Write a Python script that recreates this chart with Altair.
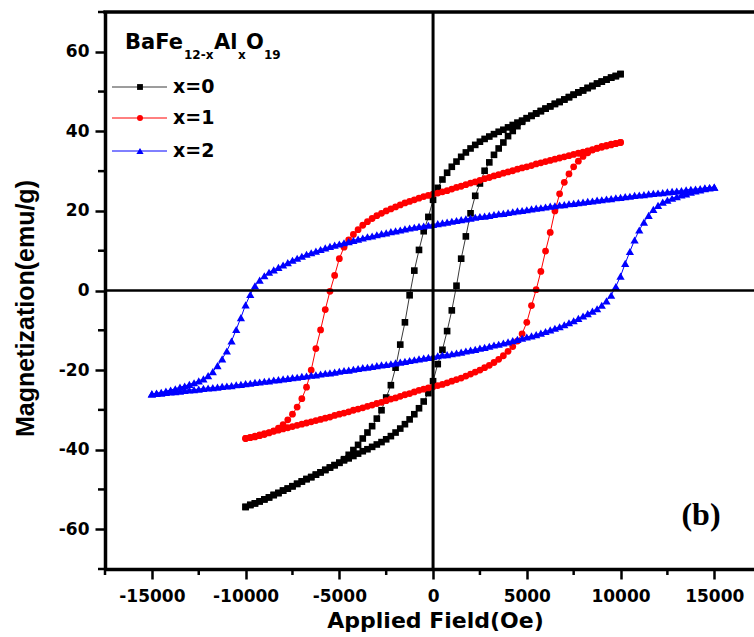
import altair as alt
import pandas as pd

# ---------------- data ----------------
SERIES = ["x=0", "x=1", "x=2"]
MARK_COLORS = ["#000000", "#ff0000", "#0000ff"]
LINE_COLORS = ["#3a3a3a", "#ff0000", "#0000ff"]
SHAPES = ["square", "circle", "triangle-up"]

# applied field sweep (Oe), descending branch order
H_10K = [10000, 9750, 9500, 9250, 9000, 8750, 8500, 8250, 8000, 7750,
         7500, 7250, 7000, 6750, 6500, 6250, 6000, 5750, 5500, 5250,
         5000, 4750, 4500, 4250, 4000, 3750, 3500, 3250, 3000, 2750,
         2500, 2250, 2000, 1750, 1500, 1250, 1000, 750, 500, 250,
         0, -250, -500, -750, -1000, -1250, -1500, -1750, -2000, -2250,
         -2500, -2750, -3000, -3250, -3500, -3750, -4000, -4250, -4500, -4750,
         -5000, -5250, -5500, -5750, -6000, -6250, -6500, -6750, -7000, -7250,
         -7500, -7750, -8000, -8250, -8500, -8750, -9000, -9250, -9500, -9750,
         -10000]
H_15K = [15000, 14750, 14500, 14250, 14000, 13750, 13500, 13250, 13000, 12750,
         12500, 12250, 12000, 11750, 11500, 11250, 11000, 10750, 10500, 10250,
         10000, 9750, 9500, 9250, 9000, 8750, 8500, 8250, 8000, 7750,
         7500, 7250, 7000, 6750, 6500, 6250, 6000, 5750, 5500, 5250,
         5000, 4750, 4500, 4250, 4000, 3750, 3500, 3250, 3000, 2750,
         2500, 2250, 2000, 1750, 1500, 1250, 1000, 750, 500, 250,
         0, -250, -500, -750, -1000, -1250, -1500, -1750, -2000, -2250,
         -2500, -2750, -3000, -3250, -3500, -3750, -4000, -4250, -4500, -4750,
         -5000, -5250, -5500, -5750, -6000, -6250, -6500, -6750, -7000, -7250,
         -7500, -7750, -8000, -8250, -8500, -8750, -9000, -9250, -9500, -9750,
         -10000, -10250, -10500, -10750, -11000, -11250, -11500, -11750, -12000, -12250,
         -12500, -12750, -13000, -13250, -13500, -13750, -14000, -14250, -14500, -14750,
         -15000]

# magnetization (emu/g)
BLACK_DOWN = [54.4, 53.9, 53.5, 53.0, 52.5, 52.0, 51.4, 50.9, 50.3, 49.8,
              49.2, 48.6, 48.0, 47.4, 46.9, 46.3, 45.7, 45.1, 44.5, 43.9,
              43.3, 42.7, 42.2, 41.6, 41.0, 40.4, 39.9, 39.3, 38.7, 38.1,
              37.4, 36.6, 35.7, 34.7, 33.6, 32.4, 31.1, 29.6, 27.9, 25.8,
              22.8, 18.5, 14.9, 10.2, 5.0, -1.2, -8.0, -13.6, -19.4, -23.8,
              -26.9, -30.1, -32.2, -34.1, -35.7, -37.2, -38.8, -40.1, -41.3, -42.4,
              -43.3, -43.9, -44.5, -45.1, -45.7, -46.3, -46.9, -47.4, -48.0, -48.6,
              -49.2, -49.8, -50.3, -50.9, -51.4, -52.0, -52.5, -53.0, -53.5, -53.9,
              -54.4]
BLACK_UP = [-54.4, -53.9, -53.5, -53.0, -52.5, -52.0, -51.4, -50.9, -50.3, -49.8,
            -49.2, -48.6, -48.0, -47.4, -46.9, -46.3, -45.7, -45.1, -44.5, -43.9,
            -43.3, -42.7, -42.2, -41.6, -41.0, -40.4, -39.9, -39.3, -38.7, -38.1,
            -37.4, -36.6, -35.7, -34.7, -33.6, -32.4, -31.1, -29.6, -27.9, -25.8,
            -22.8, -18.5, -14.9, -10.2, -5.0, 1.2, 8.0, 13.6, 19.4, 23.8,
            26.9, 30.1, 32.2, 34.1, 35.7, 37.2, 38.8, 40.1, 41.3, 42.4,
            43.3, 43.9, 44.5, 45.1, 45.7, 46.3, 46.9, 47.4, 48.0, 48.6,
            49.2, 49.8, 50.3, 50.9, 51.4, 52.0, 52.5, 53.0, 53.5, 53.9,
            54.4]
RED_DOWN = [37.2, 36.9, 36.6, 36.3, 36.0, 35.7, 35.4, 35.1, 34.8, 34.5,
            34.2, 33.9, 33.6, 33.3, 33.0, 32.7, 32.4, 32.1, 31.8, 31.4,
            31.1, 30.8, 30.5, 30.1, 29.8, 29.5, 29.1, 28.8, 28.4, 28.1,
            27.7, 27.3, 27.0, 26.6, 26.2, 25.9, 25.5, 25.1, 24.8, 24.5,
            24.2, 23.9, 23.6, 23.2, 22.8, 22.4, 22.0, 21.5, 21.0, 20.5,
            20.0, 19.4, 18.8, 18.1, 17.3, 16.4, 15.3, 14.1, 12.7, 10.9,
            8.0, 3.8, -0.2, -4.8, -9.9, -14.6, -20.0, -24.3, -27.2, -29.3,
            -31.1, -32.5, -33.7, -34.6, -35.3, -35.8, -36.2, -36.5, -36.8, -37.0,
            -37.2]
RED_UP = [-37.2, -36.9, -36.6, -36.3, -36.0, -35.7, -35.4, -35.1, -34.8, -34.5,
          -34.2, -33.9, -33.6, -33.3, -33.0, -32.7, -32.4, -32.1, -31.8, -31.4,
          -31.1, -30.8, -30.5, -30.1, -29.8, -29.5, -29.1, -28.8, -28.4, -28.1,
          -27.7, -27.3, -27.0, -26.6, -26.2, -25.9, -25.5, -25.1, -24.8, -24.5,
          -24.2, -23.9, -23.6, -23.2, -22.8, -22.4, -22.0, -21.5, -21.0, -20.5,
          -20.0, -19.4, -18.8, -18.1, -17.3, -16.4, -15.3, -14.1, -12.7, -10.9,
          -8.0, -3.8, 0.2, 4.8, 9.9, 14.6, 20.0, 24.3, 27.2, 29.3,
          31.1, 32.5, 33.7, 34.6, 35.3, 35.8, 36.2, 36.5, 36.8, 37.0,
          37.2]
BLUE_DOWN = [26.0, 25.9, 25.8, 25.6, 25.5, 25.4, 25.3, 25.1, 25.0, 24.9,
             24.8, 24.6, 24.5, 24.4, 24.3, 24.1, 24.0, 23.9, 23.7, 23.6,
             23.4, 23.3, 23.1, 23.0, 22.8, 22.7, 22.5, 22.4, 22.2, 22.1,
             21.9, 21.8, 21.6, 21.5, 21.3, 21.2, 21.0, 20.8, 20.7, 20.5,
             20.3, 20.1, 20.0, 19.8, 19.6, 19.4, 19.3, 19.1, 18.9, 18.7,
             18.6, 18.4, 18.2, 18.0, 17.8, 17.6, 17.4, 17.2, 17.0, 16.8,
             16.6, 16.4, 16.2, 16.1, 15.9, 15.7, 15.5, 15.2, 15.0, 14.8,
             14.5, 14.3, 14.0, 13.7, 13.5, 13.2, 12.9, 12.6, 12.3, 12.0,
             11.7, 11.4, 11.1, 10.7, 10.3, 9.9, 9.5, 9.1, 8.6, 8.1,
             7.6, 7.0, 6.4, 5.8, 5.2, 4.6, 3.7, 2.6, 1.2, -1.0,
             -3.6, -6.8, -9.8, -12.7, -15.2, -17.2, -18.9, -20.4, -21.4, -22.2,
             -22.7, -23.2, -23.6, -24.0, -24.3, -24.7, -25.0, -25.3, -25.6, -25.8,
             -26.0]
BLUE_UP = [-26.0, -25.9, -25.8, -25.6, -25.5, -25.4, -25.3, -25.1, -25.0, -24.9,
           -24.8, -24.6, -24.5, -24.4, -24.3, -24.1, -24.0, -23.9, -23.7, -23.6,
           -23.4, -23.3, -23.1, -23.0, -22.8, -22.7, -22.5, -22.4, -22.2, -22.1,
           -21.9, -21.8, -21.6, -21.5, -21.3, -21.2, -21.0, -20.8, -20.7, -20.5,
           -20.3, -20.1, -20.0, -19.8, -19.6, -19.4, -19.3, -19.1, -18.9, -18.7,
           -18.6, -18.4, -18.2, -18.0, -17.8, -17.6, -17.4, -17.2, -17.0, -16.8,
           -16.6, -16.4, -16.2, -16.1, -15.9, -15.7, -15.5, -15.2, -15.0, -14.8,
           -14.5, -14.3, -14.0, -13.7, -13.5, -13.2, -12.9, -12.6, -12.3, -12.0,
           -11.7, -11.4, -11.1, -10.7, -10.3, -9.9, -9.5, -9.1, -8.6, -8.1,
           -7.6, -7.0, -6.4, -5.8, -5.2, -4.6, -3.7, -2.6, -1.2, 1.0,
           3.6, 6.8, 9.8, 12.7, 15.2, 17.2, 18.9, 20.4, 21.4, 22.2,
           22.7, 23.2, 23.6, 24.0, 24.3, 24.7, 25.0, 25.3, 25.6, 25.8,
           26.0]

X_TICKS = [-15000, -10000, -5000, 0, 5000, 10000, 15000]
X_MINOR = [-17500, -12500, -7500, -2500, 2500, 7500, 12500]
Y_TICKS = [-60, -40, -20, 0, 20, 40, 60]
Y_MINOR = [-70, -50, -30, -10, 10, 30, 50, 70]
X_DOMAIN = [-17500, 17120]
Y_DOMAIN = [-70, 70]

# ---------------- layout ----------------
W, H = 649, 557
FONT = "DejaVu Sans"

xscale = alt.Scale(domain=X_DOMAIN, nice=False, zero=False)
yscale = alt.Scale(domain=Y_DOMAIN, nice=False, zero=False)
xaxis = alt.Axis(values=X_TICKS, labelExpr="'' + datum.value", labelFont=FONT,
                 labelFontSize=17, labelFontWeight="bold", labelColor="black",
                 labelPadding=9, tickSize=10, tickWidth=2.5, tickColor="black",
                 domainColor="black", domainWidth=3.5, grid=False,
                 title="Applied Field(Oe)", titleFont=FONT, titleFontSize=22,
                 titleFontWeight="bold", titleColor="black", titleX=330,
                 titleY=58, titleBaseline="alphabetic", titleAlign="center")
yaxis = alt.Axis(values=Y_TICKS, labelExpr="'' + datum.value", labelFont=FONT,
                 labelFontSize=17, labelFontWeight="bold", labelColor="black",
                 labelPadding=6, tickSize=10, tickWidth=2.5, tickColor="black",
                 domainColor="black", domainWidth=3.5, grid=False,
                 title="Magnetization(emu/g)", titleFont="Liberation Sans",
                 titleFontSize=25, titleFontWeight="bold", titleColor="black",
                 titleX=-72, titleY=296, titleAngle=270,
                 titleBaseline="alphabetic", titleAlign="center")
X_ENC = alt.X("H:Q", scale=xscale, axis=xaxis)
Y_ENC = alt.Y("M:Q", scale=yscale, axis=yaxis)

ONE = pd.DataFrame({"k": [0]})

loops = [
    (H_10K + H_10K[::-1], BLACK_DOWN + BLACK_UP),
    (H_10K + H_10K[::-1], RED_DOWN + RED_UP),
    (H_15K + H_15K[::-1], BLUE_DOWN + BLUE_UP),
]
sizes = [44, 46, 68]
legend_sizes = [34, 36, 52]

layers = []
for i, (hs, ms) in enumerate(loops):
    df = pd.DataFrame({"H": hs, "M": ms, "o": list(range(len(hs)))})
    base = alt.Chart(df)
    layers.append(base.mark_line(color=LINE_COLORS[i], strokeWidth=1).encode(
        x=X_ENC, y=Y_ENC, order="o:Q"))
    layers.append(base.mark_point(shape=SHAPES[i], filled=True, opacity=1,
                                  color=MARK_COLORS[i], size=sizes[i]).encode(
        x=X_ENC, y=Y_ENC))

# zero lines
layers.append(alt.Chart(pd.DataFrame({"M": [0]})).mark_rule(
    color="black", strokeWidth=2.5).encode(
    y=Y_ENC, x=alt.value(0), x2=alt.value(W)))
layers.append(alt.Chart(pd.DataFrame({"H": [0]})).mark_rule(
    color="black", strokeWidth=3).encode(
    x=X_ENC, y=alt.value(0), y2=alt.value(H)))

# minor ticks
layers.append(alt.Chart(pd.DataFrame({"H": X_MINOR})).mark_rule(
    color="black", strokeWidth=2.5).encode(
    x=X_ENC, y=alt.value(H), y2=alt.value(H + 6)))
layers.append(alt.Chart(pd.DataFrame({"M": Y_MINOR})).mark_rule(
    color="black", strokeWidth=2.5).encode(
    y=Y_ENC, x=alt.value(-7), x2=alt.value(0)))

# top frame
layers.append(alt.Chart(ONE).mark_rule(color="black", strokeWidth=3.5).encode(
    x=alt.value(-1.7), x2=alt.value(W), y=alt.value(0)))


def txt(s, x, y, size, font=FONT, align="left", baseline="alphabetic"):
    return alt.Chart(ONE).mark_text(
        text=s, font=font, fontSize=size, fontWeight="bold", color="black",
        align=align, baseline=baseline).encode(x=alt.value(x), y=alt.value(y))


# legend title  BaFe(12-x)Al(x)O(19)
layers += [
    txt("BaFe", 20, 37, 21),
    txt("12-x", 79, 47, 12),
    txt("Al", 109, 37, 21),
    txt("x", 133, 47, 12),
    txt("O", 141, 37, 21),
    txt("19", 159, 47, 12),
]
# legend rows
ROW_Y = [75, 106, 139]
for i, name in enumerate(SERIES):
    layers.append(alt.Chart(ONE).mark_rule(color=LINE_COLORS[i], strokeWidth=1).encode(
        x=alt.value(7), x2=alt.value(62), y=alt.value(ROW_Y[i])))
    layers.append(alt.Chart(ONE).mark_point(shape=SHAPES[i], filled=True, opacity=1,
                                            color=MARK_COLORS[i],
                                            size=legend_sizes[i]).encode(
        x=alt.value(35), y=alt.value(ROW_Y[i])))
    layers.append(txt(name, 68, ROW_Y[i], 19, baseline="middle"))

# panel label
layers.append(txt("(b)", 596, 513, 32, font="Liberation Serif", align="center"))

chart = alt.layer(*layers).properties(
    width=W, height=H,
    padding={"left": 105, "top": 12, "right": 0, "bottom": 68},
    autosize=alt.AutoSizeParams(type="none"),
).configure_view(strokeWidth=0).configure(background="white")

chart.save("out.html", embed_options={"renderer": "svg", "actions": False})
